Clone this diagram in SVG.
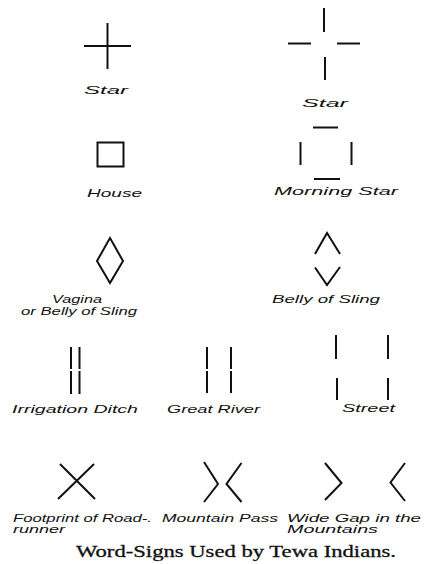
<svg xmlns="http://www.w3.org/2000/svg" width="427" height="564" viewBox="0 0 427 564">
<style>
.s{stroke:#111;stroke-width:2;fill:none;stroke-linecap:butt;stroke-linejoin:miter}
.t{font-family:"Liberation Sans",Arial,sans-serif;font-style:italic;font-size:11px;fill:#111}
.c{font-family:"Liberation Serif","Times New Roman",serif;font-size:17px;fill:#111;stroke:#111;stroke-width:0.3}
</style>
<rect width="427" height="564" fill="#fff"/>
<g id="star1">
<path class="s" d="M84 46H131M107.5 23V69"/>
<text class="t" x="84" y="94" textLength="44" lengthAdjust="spacingAndGlyphs">Star</text>
</g>
<g id="star2">
<path class="s" d="M324 8V32M288 43.5H311M337 43.5H360M325 57V80"/>
<text class="t" x="302" y="107" textLength="46" lengthAdjust="spacingAndGlyphs">Star</text>
</g>
<g id="house">
<rect class="s" x="97.5" y="142.5" width="26" height="24"/>
<text class="t" x="87" y="196.5" textLength="55" lengthAdjust="spacingAndGlyphs">House</text>
</g>
<g id="morning-star">
<path class="s" d="M313 127.5H338M300.5 142V165M351.5 142V165M314 179H340"/>
<text class="t" x="274" y="195" textLength="124" lengthAdjust="spacingAndGlyphs">Morning Star</text>
</g>
<g id="vagina">
<path class="s" d="M110 238L123 261L110 283L97 261Z"/>
<text class="t" x="77" y="303" text-anchor="middle" textLength="50" lengthAdjust="spacingAndGlyphs">Vagina</text>
<text class="t" x="21" y="315" textLength="116" lengthAdjust="spacingAndGlyphs">or Belly of Sling</text>
</g>
<g id="belly-of-sling">
<path class="s" d="M315 254L327 233L340 254M315 267.5L327 285L340 267"/>
<text class="t" x="272" y="303" textLength="108" lengthAdjust="spacingAndGlyphs">Belly of Sling</text>
</g>
<g id="irrigation-ditch">
<path class="s" d="M71 347V369M71 371V394M79.5 347V369M79.5 371V394"/>
<text class="t" x="12" y="413" textLength="126" lengthAdjust="spacingAndGlyphs">Irrigation Ditch</text>
</g>
<g id="great-river">
<path class="s" d="M207 347V369M207 371V393M231 347V369M231 371V393"/>
<text class="t" x="167" y="413" textLength="93" lengthAdjust="spacingAndGlyphs">Great River</text>
</g>
<g id="street">
<path class="s" d="M336 335V359M337 378V400M388 335V359M388 378V400"/>
<text class="t" x="342" y="412" textLength="53" lengthAdjust="spacingAndGlyphs">Street</text>
</g>
<g id="roadrunner">
<path class="s" d="M60 464L95 499M94 464L58 499"/>
<text class="t" x="13" y="522" textLength="139" lengthAdjust="spacingAndGlyphs">Footprint of Road-.</text>
<text class="t" x="13" y="533" textLength="52" lengthAdjust="spacingAndGlyphs">runner</text>
</g>
<g id="mountain-pass">
<path class="s" d="M204 462L218 484L204 502M241.5 463L226.5 484L241.5 502"/>
<text class="t" x="162" y="522" textLength="116" lengthAdjust="spacingAndGlyphs">Mountain Pass</text>
</g>
<g id="wide-gap">
<path class="s" d="M325 463L341.5 483L325 500M405 463L390.5 482.5L405 501"/>
<text class="t" x="287" y="522" textLength="134" lengthAdjust="spacingAndGlyphs">Wide Gap in the</text>
<text class="t" x="287" y="533" textLength="91" lengthAdjust="spacingAndGlyphs">Mountains</text>
</g>
<g id="caption">
<text class="c" x="76" y="557" textLength="320" lengthAdjust="spacingAndGlyphs">Word-Signs Used by Tewa Indians.</text>
</g>
</svg>
